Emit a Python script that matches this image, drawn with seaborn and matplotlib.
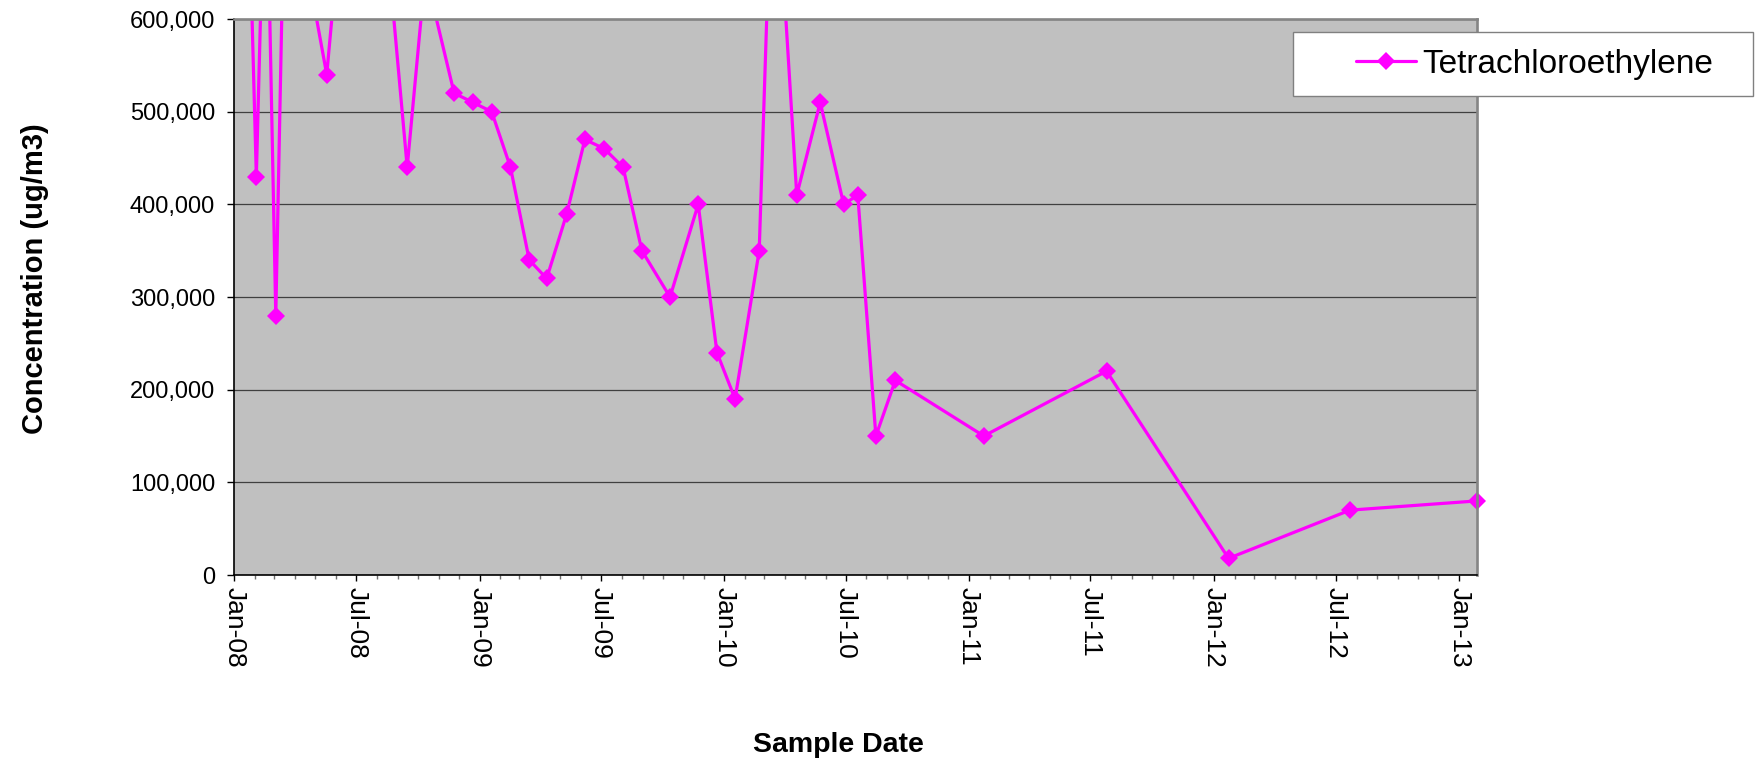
import pandas as pd
import matplotlib
matplotlib.use("Agg")
import matplotlib.pyplot as plt
import matplotlib.dates as mdates
from matplotlib.ticker import MultipleLocator, StrMethodFormatter
from matplotlib.transforms import Bbox, TransformedBbox
from matplotlib.patches import Rectangle
import seaborn as sns

sns.set_style("ticks")
plt.rcParams["font.family"] = ["Liberation Sans", "DejaVu Sans"]
plt.rcParams["text.color"] = "black"

series_name = "Tetrachloroethylene"
sample_dates = [
    "2008-01-20", "2008-02-03", "2008-02-17", "2008-03-03", "2008-03-17",
    "2008-05-18", "2008-07-11", "2008-09-15", "2008-10-12", "2008-11-24",
    "2008-12-22", "2009-01-19", "2009-02-16", "2009-03-16", "2009-04-11",
    "2009-05-11", "2009-06-07", "2009-07-06", "2009-08-03", "2009-08-31",
    "2009-10-12", "2009-11-23", "2009-12-21", "2010-01-17", "2010-02-22",
    "2010-03-15", "2010-04-19", "2010-05-24", "2010-06-28", "2010-07-19",
    "2010-08-15", "2010-09-13", "2011-01-23", "2011-07-25", "2012-01-23",
    "2012-07-22", "2013-01-28",
]
# ug/m3 -- the values above 600,000 run off the top of the chart and are estimated
concentration = [
    805000, 430000, 820000, 280000, 786000,
    540000, 970000, 440000, 650000, 520000,
    510000, 500000, 440000, 340000, 320000,
    390000, 470000, 460000, 440000, 350000,
    300000, 400000, 240000, 190000, 350000,
    820000, 410000, 510000, 400000, 410000,
    150000, 210000, 150000, 220000, 18000,
    70000, 80000,
]

df = pd.DataFrame({"date": pd.to_datetime(sample_dates), "conc": concentration})

fig = plt.figure(figsize=(17.65, 7.67), dpi=100)
ax = fig.add_axes([0.1327, 0.2503, 0.7043, 0.7249])
ax.set_facecolor("#C0C0C0")

sns.lineplot(data=df, x="date", y="conc", ax=ax, color="#FF00FF", lw=2.3,
             marker="D", markersize=9.5, markeredgecolor="#FF00FF",
             markeredgewidth=0, estimator=None, sort=False, legend=False,
             label=series_name)

# let the last marker poke past the right edge like Excel does
line = ax.lines[0]
line.set_clip_box(TransformedBbox(Bbox.from_extents(0, -0.05, 1.02, 1), ax.transAxes))

ax.set_ylim(0, 600000)
ax.set_xlim(pd.Timestamp("2008-01-01"), df["date"].iloc[-1])
ax.yaxis.set_major_locator(MultipleLocator(100000))
ax.yaxis.set_major_formatter(StrMethodFormatter("{x:,.0f}"))
ax.xaxis.set_major_locator(mdates.MonthLocator(bymonth=[1, 7]))
ax.xaxis.set_minor_locator(mdates.MonthLocator())
ax.xaxis.set_major_formatter(mdates.DateFormatter("%b-%y"))

ax.yaxis.grid(True, color="#404040", lw=0.9)
ax.xaxis.grid(False)

for side in ["left", "bottom"]:
    ax.spines[side].set_color("black")
    ax.spines[side].set_linewidth(1.2)
for side in ["top", "right"]:
    ax.spines[side].set_color("#858585")
    ax.spines[side].set_linewidth(1.9)

ax.tick_params(axis="y", length=4.8, width=1, color="black", labelcolor="black",
               labelsize=17, pad=9)
ax.tick_params(axis="x", which="major", length=4.3, width=1, color="black",
               labelcolor="black", labelsize=19, pad=4, labelrotation=270)
ax.tick_params(axis="x", which="minor", length=2.9, width=1, color="#707070")

ax.set_ylabel("Concentration (ug/m3)", fontsize=21, fontweight="bold", color="black")
ax.yaxis.set_label_coords(-0.160, 0.533)
ax.yaxis.label.set_va("center")
ax.set_xlabel("Sample Date", fontsize=20.5, fontweight="bold", color="black")
ax.xaxis.set_label_coords(0.4862, -0.3058)
ax.xaxis.label.set_va("center")

# legend box sits over the top-right corner of the plot area
fig.add_artist(Rectangle((1293.3 / 1765, 1 - 95.7 / 767), (1753 - 1293.3) / 1765,
                         (95.7 - 32.3) / 767, transform=fig.transFigure,
                         fc="white", ec="#808080", lw=1, zorder=4))
handles, labels = ax.get_legend_handles_labels()
leg = fig.legend(handles, labels, loc="center left", bbox_to_anchor=(1356 / 1765, 1 - 64 / 767),
                 borderpad=0, borderaxespad=0, handlelength=1.8, handletextpad=0.2,
                 frameon=False, fontsize=24)
for txt in leg.get_texts():
    txt.set_color("black")

fig.savefig("out.png", dpi=100)
